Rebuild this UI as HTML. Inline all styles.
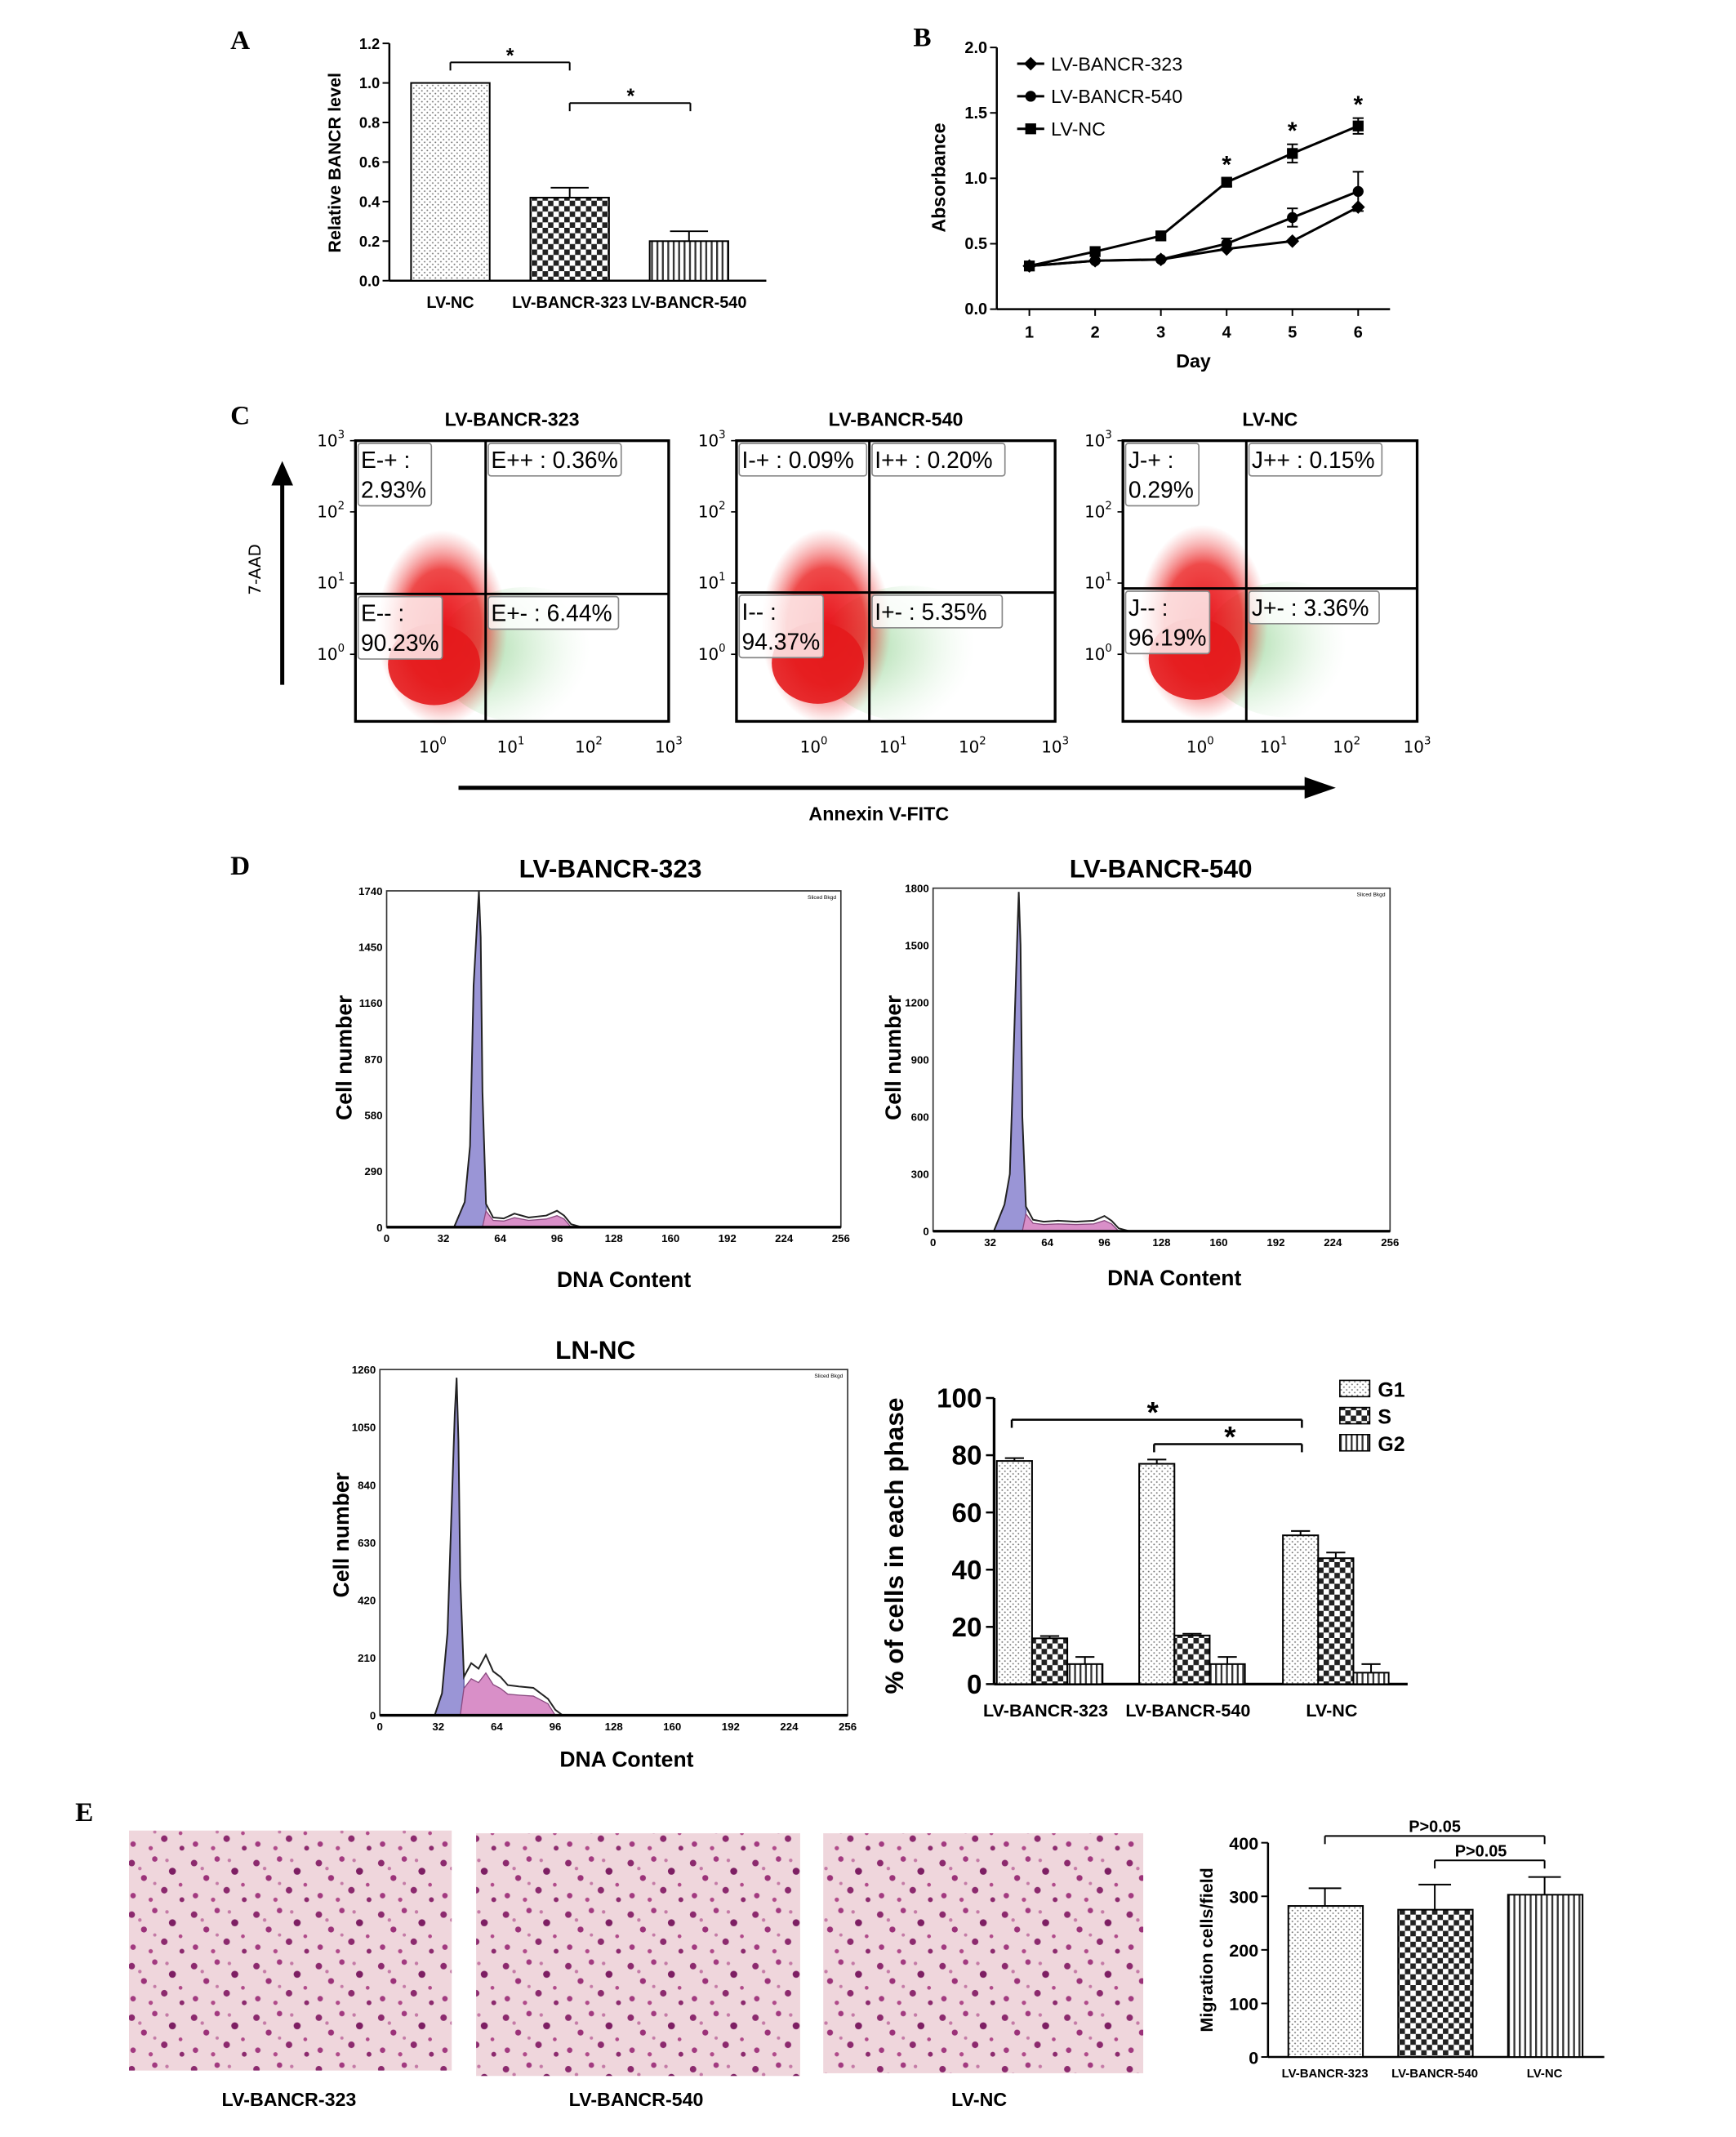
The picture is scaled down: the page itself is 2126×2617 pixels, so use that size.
<!DOCTYPE html>
<html><head><meta charset="utf-8">
<style>
html,body{margin:0;padding:0;background:#fff;}
svg{display:block;font-family:"Liberation Sans",Arial,sans-serif;}
</style></head>
<body>
<svg id="fig" width="2126" height="2617" viewBox="0 0 1280 1576" xmlns="http://www.w3.org/2000/svg">
<defs>
<pattern id="pDot" width="4" height="4" patternUnits="userSpaceOnUse"><rect width="4" height="4" fill="#fff"/><circle cx="1" cy="1" r="0.6" fill="#777"/><circle cx="3" cy="3" r="0.6" fill="#777"/></pattern>
<pattern id="pChk" width="8" height="8" patternUnits="userSpaceOnUse"><rect width="8" height="8" fill="#fff"/><rect width="4" height="4" fill="#222"/><rect x="4" y="4" width="4" height="4" fill="#222"/></pattern>
<pattern id="pStr" width="4" height="4" patternUnits="userSpaceOnUse"><rect width="4" height="4" fill="#fff"/><rect width="1.4" height="4" fill="#333"/></pattern>
<pattern id="pCells" width="46" height="38" patternUnits="userSpaceOnUse"><rect width="46" height="38" fill="#efd6dc"/>
<circle cx="5" cy="6" r="2.4" fill="#8c2a6e"/><circle cx="22" cy="3" r="2" fill="#a23a80"/><circle cx="35" cy="12" r="2.6" fill="#7d1f63"/><circle cx="14" cy="17" r="2.2" fill="#9b3279"/><circle cx="29" cy="26" r="2.4" fill="#8c2a6e"/><circle cx="6" cy="30" r="2" fill="#a23a80"/><circle cx="19" cy="33" r="1.6" fill="#b04a8a"/><circle cx="42" cy="33" r="1.8" fill="#8c2a6e"/><circle cx="11" cy="10" r="1.3" fill="#c47aa6"/><circle cx="31" cy="4" r="1.3" fill="#c47aa6"/><circle cx="41" cy="22" r="1.4" fill="#b04a8a"/><circle cx="22" cy="21" r="1.2" fill="#c47aa6"/></pattern>
<radialGradient id="gRed" cx="50%" cy="50%" r="50%"><stop offset="0" stop-color="#e8141c"/><stop offset="0.6" stop-color="#ec2a2a" stop-opacity="0.85"/><stop offset="1" stop-color="#f27070" stop-opacity="0"/></radialGradient>
<radialGradient id="gGreen" cx="15%" cy="45%" r="70%"><stop offset="0" stop-color="#3aa83a" stop-opacity="0.55"/><stop offset="0.6" stop-color="#7fcf7f" stop-opacity="0.22"/><stop offset="1" stop-color="#bfe8bf" stop-opacity="0"/></radialGradient>
</defs>
<g id="root"></g>
</svg>
<script>
// ---------- DATA ----------
var aCats = ["LV-NC","LV-BANCR-323","LV-BANCR-540"];
var aVals = [1.0,0.42,0.20];
var aErr = [0,0.05,0.05];
var aTicks = [0,0.2,0.4,0.6,0.8,1.0,1.2];

var bDays = [1,2,3,4,5,6];
var b323 = [0.33,0.37,0.38,0.46,0.52,0.78];
var b540 = [0.33,0.37,0.38,0.50,0.70,0.90];
var bNC = [0.33,0.44,0.56,0.97,1.19,1.40];
var bNCerr = [0.02,0.02,0.02,0.03,0.07,0.06];
var b540err = [0.02,0.02,0.02,0.04,0.07,0.15];
var bTicks = [0,0.5,1.0,1.5,2.0];

var cTitles = ["LV-BANCR-323","LV-BANCR-540","LV-NC"];
var cUL = ["E-+ :|2.93%","I-+ : 0.09%","J-+ :|0.29%"];
var cUR = ["E++ : 0.36%","I++ : 0.20%","J++ : 0.15%"];
var cLL = ["E-- :|90.23%","I-- :|94.37%","J-- :|96.19%"];
var cLR = ["E+- : 6.44%","I+- : 5.35%","J+- : 3.36%"];

var dTitles = ["LV-BANCR-323","LV-BANCR-540","LN-NC"];
var dMax = [1740,1800,1260];
var dYTicks = [[0,290,580,870,1160,1450,1740],[0,300,600,900,1200,1500,1800],[0,210,420,630,840,1050,1260]];
var dXTicks = [0,32,64,96,128,160,192,224,256];
var dCh1 = [38,44,47,49,51,52,53,54,56,60,66,72,80,90,96,100,104,110];
var dCt1 = [0,130,420,1250,1580,1740,1500,700,120,50,45,70,50,60,85,60,15,0];
var dCh2 = [34,40,43,45,47,48,49,50,52,56,62,70,80,90,96,100,104,110];
var dCt2 = [0,140,300,900,1500,1780,1500,600,130,60,50,55,50,55,80,55,15,0];
var dCh3 = [30,34,37,39,41,42,43,44,46,50,54,58,62,66,70,76,84,92,96,100];
var dCt3 = [0,80,300,700,1100,1230,1000,500,140,190,170,220,160,140,110,105,100,60,20,0];

var eCats = ["LV-BANCR-323","LV-BANCR-540","LV-NC"];
var eG1 = [78,77,52];
var eS = [16,17,44];
var eG2 = [7,7,4];
var eG1err = [1,1.5,1.5];
var eSerr = [0.8,0.6,2];
var eG2err = [2.5,2.5,3];
var eTicks = [0,20,40,60,80,100];

var mCats = ["LV-BANCR-323","LV-BANCR-540","LV-NC"];
var mVals = [282,275,303];
var mErr = [33,47,33];
var mTicks = [0,100,200,300,400];

// ---------- HELPERS ----------
var NS="http://www.w3.org/2000/svg";
var root=document.getElementById('root');
function mk(tag,attrs,parent){var e=document.createElementNS(NS,tag);for(var k in attrs)e.setAttribute(k,attrs[k]);(parent||root).appendChild(e);return e;}
function txt(x,y,s,size,opts,parent){opts=opts||{};var a={x:x,y:y,'font-size':size,'text-anchor':opts.anchor||'middle',fill:opts.fill||'#000'};if(opts.bold)a['font-weight']='bold';if(opts.rot)a.transform='rotate('+opts.rot+' '+x+' '+y+')';if(opts.family)a['font-family']=opts.family;var t=mk('text',a,parent);t.textContent=s;return t;}
function line(x1,y1,x2,y2,w,parent,c){return mk('line',{x1:x1,y1:y1,x2:x2,y2:y2,stroke:c||'#000','stroke-width':w||1},parent);}
function errbar(x,y1,y2,hw,parent){line(x,y1,x,y2,1.2,parent);line(x-hw,y2,x+hw,y2,1.2,parent);}

// ---------- PANEL A ----------
var gA=mk('g',{});


var lA=txt(177,36,"A",20,{bold:true,family:'"Liberation Serif",serif'},gA);


function yA(v){return 207-v/1.2*175;}
line(287,32,287,207,1.5,gA);line(287,207,565,207,1.5,gA);
aTicks.forEach(function(t){line(282,yA(t),287,yA(t),1.2,gA);txt(280,yA(t)+4,t.toFixed(1),11,{anchor:'end',bold:true},gA);});
txt(251,120,"Relative BANCR level",13,{bold:true,rot:-90},gA);
var aX=[332,420,508],aFill=['url(#pDot)','url(#pChk)','url(#pStr)'];
aCats.forEach(function(c,i){
  var r=mk('rect',{x:aX[i]-29,y:yA(aVals[i]),width:58,height:207-yA(aVals[i]),fill:aFill[i],stroke:'#000','stroke-width':1.2},gA);
  
  
  if(aErr[i])errbar(aX[i],yA(aVals[i]),yA(aVals[i]+aErr[i]),14,gA);
  txt(aX[i],227,c,12,{bold:true},gA);
});
line(332,46,420,46,1.2,gA);line(332,46,332,52,1.2,gA);line(420,46,420,52,1.2,gA);txt(376,46,"*",15,{bold:true},gA);
line(420,76,509,76,1.2,gA);line(420,76,420,82,1.2,gA);line(509,76,509,82,1.2,gA);txt(465,76,"*",15,{bold:true},gA);

// ---------- PANEL B ----------
var gB=mk('g',{});


var lB=txt(680,34,"B",20,{bold:true,family:'"Liberation Serif",serif'},gB);


function xB(d){return 759+(d-1)*48.5;}
function yB(v){return 228-v/2*193;}
line(735,35,735,228,1.5,gB);line(735,228,1025,228,1.5,gB);
bTicks.forEach(function(t){line(730,yB(t),735,yB(t),1.2,gB);txt(728,yB(t)+4,t.toFixed(1),12,{anchor:'end',bold:true},gB);});
bDays.forEach(function(d){line(xB(d),228,xB(d),233,1.2,gB);txt(xB(d),249,String(d),12,{bold:true},gB);});
txt(880,271,"Day",14,{bold:true},gB);
txt(697,131,"Absorbance",14,{bold:true,rot:-90},gB);
function marker(kind,x,y,g){
  if(kind==='d')mk('polygon',{points:(x)+','+(y-5)+' '+(x+5)+','+y+' '+x+','+(y+5)+' '+(x-5)+','+y,fill:'#000'},g);
  else if(kind==='c')mk('circle',{cx:x,cy:y,r:4,fill:'#000'},g);
  else mk('rect',{x:x-4,y:y-4,width:8,height:8,fill:'#000'},g);
}
function series(vals,errs,kind,name){
  var g=mk('g',{},gB);
  
  
  var pts=vals.map(function(v,i){return xB(bDays[i])+','+yB(v);}).join(' ');
  mk('polyline',{points:pts,fill:'none',stroke:'#000','stroke-width':1.8},g);
  vals.forEach(function(v,i){
    if(errs&&errs[i]>0.025){errbar(xB(bDays[i]),yB(v),yB(v+errs[i]),4,g);errbar(xB(bDays[i]),yB(v),yB(v-errs[i]),4,g);}
    marker(kind,xB(bDays[i]),yB(v),g);});
}
series(b323,null,'d','lv-bancr-323');
series(b540,b540err,'c','lv-bancr-540');
series(bNC,bNCerr,'s','lv-nc');
[3,4,5].forEach(function(i){txt(xB(bDays[i]),yB(bNC[i]+bNCerr[i])-4,"*",18,{bold:true},gB);});
var legB=[["LV-BANCR-323",'d',47],["LV-BANCR-540",'c',71],["LV-NC",'s',95]];
legB.forEach(function(l){var g=mk('g',{},gB);
  
  
  line(750,l[2],770,l[2],1.8,g);marker(l[1],760,l[2],g);txt(775,l[2]+5,l[0],14,{anchor:'start'},g);});

// ---------- PANEL C ----------
var gC=mk('g',{});


var lC=txt(177,313,"C",20,{bold:true,family:'"Liberation Serif",serif'},gC);


var cBox=[[262,325,493,532,358,438],[543,325,778,532,641,437],[828,325,1045,532,919,434]];
function boxLabel(x,y,s,g,w){
  var parts=s.split('|');var h=parts.length>1?46:24;
  mk('rect',{x:x,y:y,width:w,height:h,fill:'rgba(255,255,255,0.8)',stroke:'#888','stroke-width':1,rx:2},g);
  parts.forEach(function(p,k){txt(x+2,y+18+k*22,p,17,{anchor:'start',family:'"Liberation Sans",sans-serif'},g);});
}
cBox.forEach(function(b,i){
  var g=mk('g',{},gC);
  
  
  var x0=b[0],y0=b[1],x1=b[2],y1=b[3],qx=b[4],qy=b[5];
  var w=x1-x0,h=y1-y0;
  txt((x0+x1)/2,314,cTitles[i],14,{bold:true},g);
  mk('ellipse',{cx:qx+30,cy:qy+45,rx:(x1-qx)*0.5,ry:50,fill:'url(#gGreen)'},g);
  mk('ellipse',{cx:qx-32,cy:qy+25,rx:48,ry:72,fill:'url(#gRed)'},g);
  mk('ellipse',{cx:qx-38,cy:qy+52,rx:34,ry:30,fill:'#e41a1c',opacity:0.9},g);
  mk('rect',{x:x0,y:y0,width:w,height:h,fill:'none',stroke:'#000','stroke-width':2},g);
  line(qx,y0,qx,y1,1.8,g);line(x0,qy,x1,qy,1.8,g);
  ['3','2','1','0'].forEach(function(p,k){var yy=y0+k*52.5;line(x0-4,yy,x0,yy,1,g);
    var t=txt(x0-8,yy+4,'10',12,{anchor:'end',family:'"DejaVu Sans",sans-serif'},g);var s=document.createElementNS(NS,'tspan');s.setAttribute('dy','-6');s.setAttribute('font-size','8');s.textContent=p;t.appendChild(s);});
  ['0','1','2','3'].forEach(function(p,k){var xx=(k==3)?x1:x0+57+k*57.5*(w/231);
    var t=txt(xx,555,'10',12,{family:'"DejaVu Sans",sans-serif'},g);var s=document.createElementNS(NS,'tspan');s.setAttribute('dy','-6');s.setAttribute('font-size','8');s.textContent=p;t.appendChild(s);});
  boxLabel(x0+2,y0+2,cUL[i],g,cUL[i].indexOf('|')>0?54:94);
  boxLabel(qx+2,y0+2,cUR[i],g,98);
  boxLabel(x0+2,qy+2,cLL[i],g,62);
  boxLabel(qx+2,qy+2,cLR[i],g,96);
});
var ax1=mk('g',{},gC);


line(208,505,208,355,3,ax1);mk('polygon',{points:'200,358 216,358 208,340',fill:'#000'},ax1);
txt(192,420,"7-AAD",12,{rot:-90,family:'"DejaVu Sans",sans-serif'},ax1);
var ax2=mk('g',{},gC);


line(338,581,965,581,3,ax2);mk('polygon',{points:'962,573 962,589 985,581',fill:'#000'},ax2);
txt(648,605,"Annexin V-FITC",14,{bold:true},ax2);

// ---------- PANEL D ----------
var gD=mk('g',{});


var lD=txt(177,645,"D",20,{bold:true,family:'"Liberation Serif",serif'},gD);


var dBox=[[285,657,620,905,450,640,460,949,255,780],[688,655,1025,908,856,640,866,948,660,780],[280,1010,625,1265,439,995,462,1303,253,1132]];
var dCh=[dCh1,dCh2,dCh3],dCt=[dCt1,dCt2,dCt3];
dBox.forEach(function(b,i){
  var g=mk('g',{},gD);
  
  
  var x0=b[0],y0=b[1],x1=b[2],y1=b[3];
  function xs(c){return x0+c/256*(x1-x0);} function ys(v){return y1-v/dMax[i]*(y1-y0);}
  txt(b[4],b[5]+7,dTitles[i],19,{bold:true},g);
  var ch=dCh[i],ct=dCt[i];
  var peakIdx=ct.indexOf(Math.max.apply(null,ct));
  var g1=[];for(var k=0;k<ch.length;k++){if(k<=peakIdx+3)g1.push(xs(ch[k])+','+ys(ct[k]));}
  g1.push(xs(ch[Math.min(peakIdx+3,ch.length-1)])+','+y1);
  mk('polygon',{points:xs(ch[0])+','+y1+' '+g1.join(' '),fill:'#9a95d6',stroke:'#5a55a0','stroke-width':0.8},g);
  var sPts=[xs(ch[peakIdx+2])+','+y1];for(var k=peakIdx+3;k<ch.length-2;k++)sPts.push(xs(ch[k])+','+ys(ct[k]*0.7));sPts.push(xs(ch[ch.length-2])+','+y1);
  mk('polygon',{points:sPts.join(' '),fill:'#d98fc8',stroke:'#8a4a80','stroke-width':0.8},g);
  mk('polyline',{points:ch.map(function(c,k){return xs(c)+','+ys(ct[k]);}).join(' '),fill:'none',stroke:'#222','stroke-width':1.2},g);
  mk('rect',{x:x0,y:y0,width:x1-x0,height:y1-y0,fill:'none',stroke:'#333','stroke-width':1},g);
  line(x0,y1,x1,y1,2,g);
  dYTicks[i].forEach(function(t){txt(x0-3,ys(t)+3,String(t),8,{anchor:'end',bold:true},g);});
  dXTicks.forEach(function(t){txt(xs(t),y1+11,String(t),8,{bold:true},g);});
  txt(x1-14,y0+6,"Sliced Bkgd",4,{},g);
  txt(b[6],b[7],"DNA Content",16,{bold:true},g);
  txt(b[8]+4,b[9],"Cell number",16,{bold:true,rot:-90},g);
});
var gDb=mk('g',{},gD);


function yE(v){return 1242-v/100*211;}
line(733,1031,733,1242,2,gDb);line(733,1242,1038,1242,2,gDb);
eTicks.forEach(function(t){line(727,yE(t),733,yE(t),1.5,gDb);txt(724,yE(t)+7,String(t),20,{anchor:'end',bold:true},gDb);});
txt(666,1140,"% of cells in each phase",19,{bold:true,rot:-90},gDb);
var eGX=[747,852,958];
var series3=[[eG1,eG1err,'url(#pDot)','g1'],[eS,eSerr,'url(#pChk)','s'],[eG2,eG2err,'url(#pStr)','g2']];
eCats.forEach(function(c,i){
  series3.forEach(function(s,j){
    var x=eGX[i]-12+j*26;var v=s[0][i];
    var r=mk('rect',{x:x,y:yE(v),width:26,height:1242-yE(v),fill:s[2],stroke:'#000','stroke-width':1.2},gDb);
    
    
    errbar(x+13,yE(v),yE(v+s[1][i]),7,gDb);
  });
  txt(eGX[i]+24,1266,c,13,{bold:true},gDb);
});
line(746,1047,960,1047,1.5,gDb);line(746,1047,746,1053,1.5,gDb);line(960,1047,960,1053,1.5,gDb);txt(850,1049,"*",22,{bold:true},gDb);
line(851,1065,960,1065,1.5,gDb);line(851,1065,851,1071,1.5,gDb);line(960,1065,960,1071,1.5,gDb);txt(907,1067,"*",22,{bold:true},gDb);
[["G1",'url(#pDot)',1024],["S",'url(#pChk)',1044],["G2",'url(#pStr)',1064]].forEach(function(l){var g=mk('g',{},gDb);
  
  
  mk('rect',{x:988,y:l[2]-6,width:22,height:12,fill:l[1],stroke:'#000','stroke-width':1},g);txt(1016,l[2]+6,l[0],15,{anchor:'start',bold:true},g);});

// ---------- PANEL E ----------
var gE=mk('g',{});


var lE=txt(62,1343,"E",20,{bold:true,family:'"Liberation Serif",serif'},gE);


var imgs=[[95,1350,238,177,213,1553],[351,1352,239,179,469,1553],[607,1352,236,177,722,1553]];
imgs.forEach(function(m,i){
  var r=mk('rect',{x:m[0],y:m[1],width:m[2],height:m[3],fill:'url(#pCells)'},gE);
  
  
  txt(m[4],m[5],eCats[i],14,{bold:true},gE);
});
var gM=mk('g',{},gE);


function yM(v){return 1517-v/400*158;}
line(935,1359,935,1517,1.5,gM);line(935,1517,1183,1517,1.5,gM);
mTicks.forEach(function(t){line(930,yM(t),935,yM(t),1.2,gM);txt(928,yM(t)+5,String(t),13,{anchor:'end',bold:true},gM);});
txt(894,1438,"Migration cells/field",13,{bold:true,rot:-90},gM);
var mX=[977,1058,1139],mF=['url(#pDot)','url(#pChk)','url(#pStr)'];
mCats.forEach(function(c,i){
  var r=mk('rect',{x:mX[i]-27,y:yM(mVals[i]),width:55,height:1517-yM(mVals[i]),fill:mF[i],stroke:'#000','stroke-width':1.2},gM);
  
  
  errbar(mX[i],yM(mVals[i]),yM(mVals[i]+mErr[i]),12,gM);
  txt(mX[i],1532,c,9,{bold:true},gM);
});
line(977,1354,1139,1354,1.2,gM);line(977,1354,977,1360,1.2,gM);line(1139,1354,1139,1360,1.2,gM);txt(1058,1351,"P>0.05",12,{bold:true},gM);
line(1058,1372,1139,1372,1.2,gM);line(1058,1372,1058,1378,1.2,gM);line(1139,1372,1139,1378,1.2,gM);txt(1092,1369,"P>0.05",12,{bold:true},gM);
</script>
</body></html>
